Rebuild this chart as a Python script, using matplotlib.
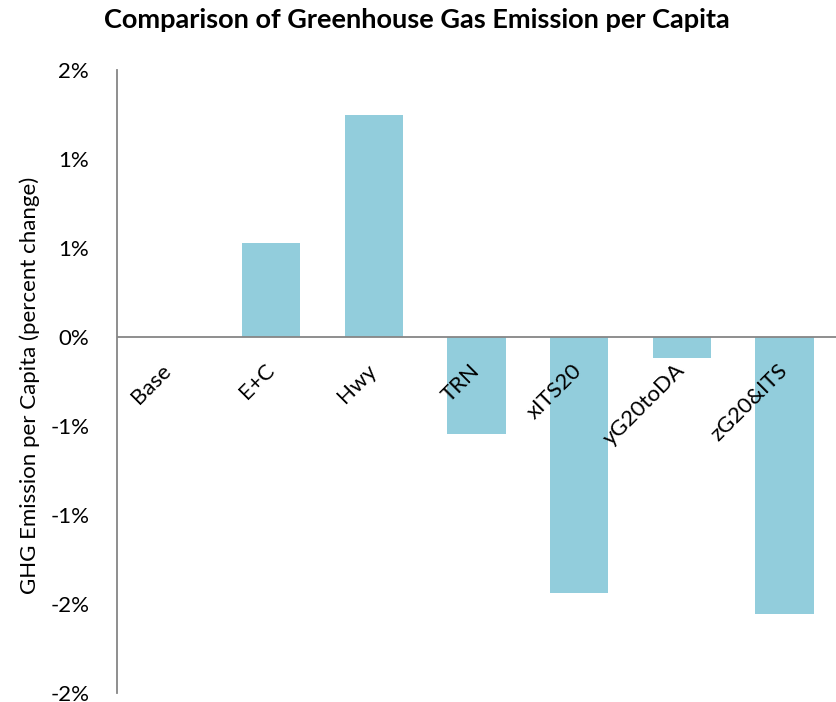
import matplotlib.pyplot as plt
from matplotlib.ticker import FixedLocator, FixedFormatter

categories = ["Base", "E+C", "Hwy", "TRN", "xITS20", "yG20toDA", "zG20&ITS"]
values = [0.0, 0.528, 1.247, -0.545, -1.438, -0.118, -1.556]
tick_vals = [1.5, 1.0, 0.5, 0.0, -0.5, -1.0, -1.5, -2.0]
tick_labels = ["2%", "1%", "1%", "0%", "-1%", "-1%", "-2%", "-2%"]

plt.rcParams['font.family'] = ['Lato', 'DejaVu Sans']

fig = plt.figure(figsize=(8.36, 7.02), dpi=100)
ax = fig.add_axes([117 / 836, 1 - 693 / 702, 1 - 117 / 836, (693 - 70) / 702])

x = list(range(len(categories)))
ax.bar(x, values, width=0.57, color="#92CDDC", zorder=2)
ax.axhline(0, color="#868686", lw=1.3, zorder=3)

ax.set_xlim(-0.5, len(categories) - 0.5)
ax.set_ylim(-2.0, 1.5)
ax.yaxis.set_major_locator(FixedLocator(tick_vals))
ax.yaxis.set_major_formatter(FixedFormatter(tick_labels))
ax.tick_params(axis='y', length=0, pad=20, labelsize=16)
ax.set_xticks([])

for s in ["top", "right", "bottom"]:
    ax.spines[s].set_visible(False)
ax.spines["left"].set_color("#868686")
ax.spines["left"].set_linewidth(1.3)

for xi, name in zip(x, categories):
    ax.text(xi - 0.07, -0.13, name, rotation=45, rotation_mode='anchor',
            ha='right', va='top', fontsize=16, zorder=4)

fig.text(30 / 836, 1 - 385 / 702, "GHG Emission per Capita (percent change)",
         rotation=90, ha='center', va='center', fontsize=16)
fig.text(417 / 836, 1 - 20 / 702, "Comparison of Greenhouse Gas Emission per Capita",
         ha='center', va='center', fontsize=19.5, fontweight='bold')

fig.savefig("out.png", dpi=100)
